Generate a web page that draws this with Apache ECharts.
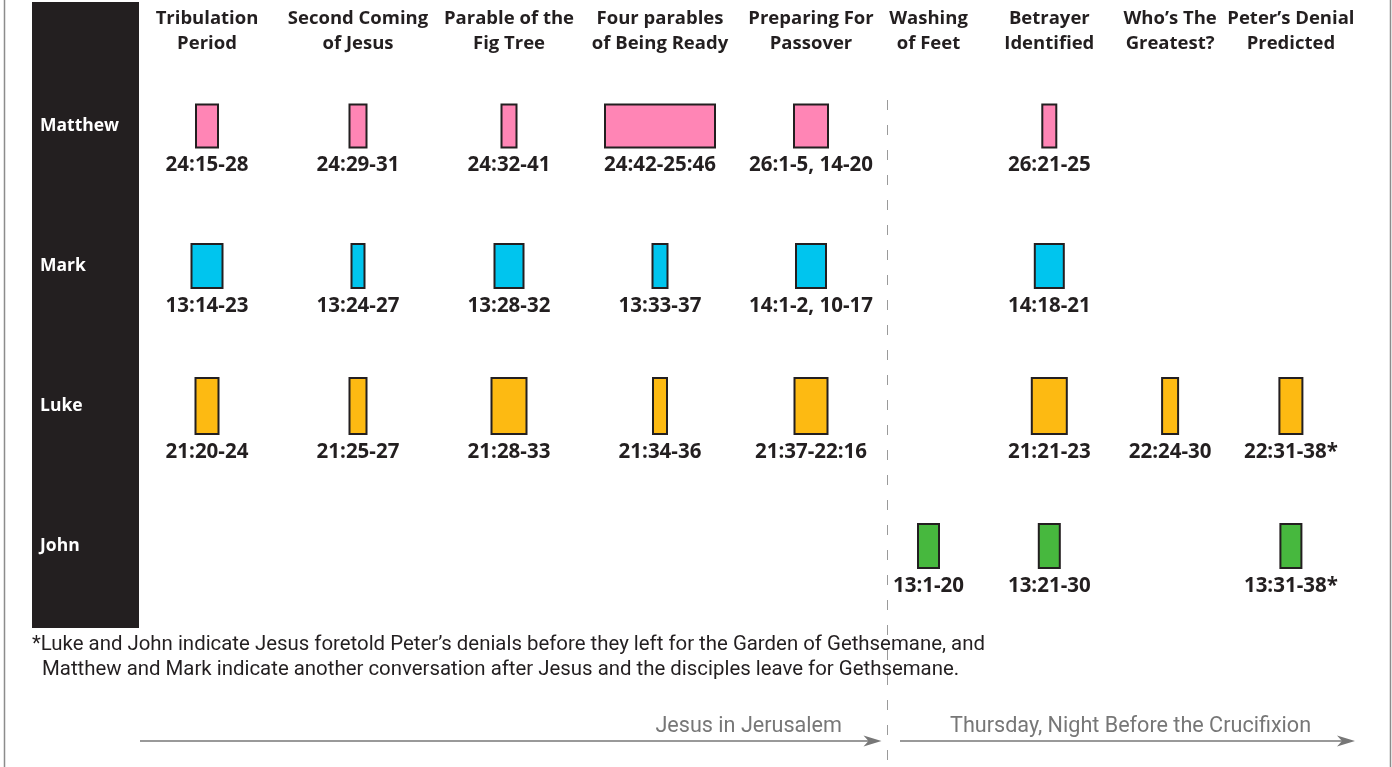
<!DOCTYPE html>
<html><head><meta charset="utf-8">
<script src="https://cdn.jsdelivr.net/npm/echarts@6/dist/echarts.min.js"></script>
<style>html,body{margin:0;padding:0;background:#fff}#c{width:1392px;height:767px}</style>
</head><body><div id="c"></div>
<script>
// ---- data ----
const events = ['Tribulation\nPeriod','Second Coming\nof Jesus','Parable of the\nFig Tree','Four parables\nof Being Ready','Preparing For\nPassover','Washing\nof Feet','Betrayer\nIdentified','Who’s The\nGreatest?','Peter’s Denial\nPredicted'];
const gospels = ['Matthew','Mark','Luke','John'];
const matthewRefs = ['24:15-28','24:29-31','24:32-41','24:42-25:46','26:1-5, 14-20','','26:21-25','',''];
const markRefs    = ['13:14-23','13:24-27','13:28-32','13:33-37','14:1-2, 10-17','','14:18-21','',''];
const lukeRefs    = ['21:20-24','21:25-27','21:28-33','21:34-36','21:37-22:16','','21:21-23','22:24-30','22:31-38*'];
const johnRefs    = ['','','','','','13:1-20','13:21-30','','13:31-38*'];
// relative passage extent (box width)
const matthewSpan = [24,19,17,112,36,0,16,0,0];
const markSpan    = [33,15,31,17,32,0,31,0,0];
const lukeSpan    = [25,19,37,16,35,0,37,18,25];
const johnSpan    = [0,0,0,0,0,23,23,0,23];
const phaseLabels = ['Jesus in Jerusalem','Thursday, Night Before the Crucifixion'];
const footnoteLines = ['*Luke and John indicate Jesus foretold Peter’s denials before they left for the Garden of Gethsemane, and',
                       'Matthew and Mark indicate another conversation after Jesus and the disciples leave for Gethsemane.'];

// ---- styles ----
const gospelColors = ['#FF85B5','#00C5EE','#FDBA12','#47B83E'];
const boxHeights = [45,46,58,46];
const ink = '#231f20';
const splitAt = 5;

const refsAll = [matthewRefs, markRefs, lukeRefs, johnRefs];
const spanAll = [matthewSpan, markSpan, lukeSpan, johnSpan];

function buildItems(from, to){
  const items = [];
  refsAll.forEach((refs, g) => {
    for (let i = from; i < to; i++){
      if (refs[i]) items.push({value:[i - from, g, spanAll[g][i]], ref: refs[i]});
    }
  });
  return items;
}
const leftItems = buildItems(0, splitAt);
const rightItems = buildItems(splitAt, events.length);

function makeRender(items){
  return function(params, api){
    const c = api.coord([api.value(0), api.value(1)]);
    const g = api.value(1);
    const w = api.value(2);
    const h = boxHeights[g];
    const top = c[1] - h/2;
    return {type:'group', children:[
      {type:'rect', shape:{x:c[0]-w/2+1, y:top+1, width:w-2, height:h-2},
       style:{fill:gospelColors[g], stroke:ink, lineWidth:2}},
      {type:'text', style:{text:items[params.dataIndex].ref, x:c[0], y:top+h+17,
        align:'center', verticalAlign:'middle', fill:ink,
        fontFamily:'Open Sans', fontWeight:700, fontSize:20.5}}
    ]};
  };
}

const gridTop = 56, gridH = 560;
const chart = echarts.init(document.getElementById('c'));
const xLabel = {interval:0, color:ink, fontFamily:'Open Sans', fontWeight:700, fontSize:18.5, lineHeight:25, margin:0};
chart.setOption({
  animation:false,
  grid:[
    {left:131.5, top:gridTop, width:755, height:gridH},
    {left:868.1, top:gridTop, width:483.2, height:gridH}
  ],
  xAxis:[
    {gridIndex:0, type:'category', position:'top', data:events.slice(0,splitAt),
     axisLine:{show:false}, axisTick:{show:false}, splitLine:{show:false}, axisLabel:xLabel},
    {gridIndex:1, type:'category', position:'top', data:events.slice(splitAt),
     axisLine:{show:false}, axisTick:{show:false}, splitLine:{show:false}, axisLabel:xLabel}
  ],
  yAxis:[
    {gridIndex:0, type:'category', inverse:true, data:gospels, z:10,
     axisLine:{show:false}, axisTick:{show:false}, splitLine:{show:false},
     axisLabel:{color:'#fff', fontFamily:'Open Sans', fontWeight:700, fontSize:17.5, align:'left', margin:91.5, padding:[0,0,5,0]}},
    {gridIndex:1, type:'category', inverse:true, data:gospels,
     axisLine:{show:false}, axisTick:{show:false}, splitLine:{show:false}, axisLabel:{show:false}}
  ],
  series:[
    {type:'custom', xAxisIndex:0, yAxisIndex:0, data:leftItems, renderItem:makeRender(leftItems)},
    {type:'custom', xAxisIndex:1, yAxisIndex:1, data:rightItems, renderItem:makeRender(rightItems)}
  ],
  graphic:[
    {type:'rect', z:0, shape:{x:4.5, y:-10, width:1386, height:790}, style:{fill:'none', stroke:'#8c8c8c', lineWidth:1.5}},
    {type:'rect', z:0, shape:{x:32, y:2, width:107, height:626}, style:{fill:ink}},
    {type:'line', z:0, shape:{x1:887.5, y1:100, x2:887.5, y2:767}, style:{stroke:'#9a9a9a', lineWidth:1, lineDash:[10,15]}},
    {type:'line', z:0, shape:{x1:140, y1:741, x2:870, y2:741}, style:{stroke:'#777', lineWidth:1.5}},
    {type:'polygon', z:0, shape:{points:[[881.5,741],[863.5,735.5],[868.5,741],[863.5,746.5]]}, style:{fill:'#777'}},
    {type:'line', z:0, shape:{x1:900, y1:741, x2:1344, y2:741}, style:{stroke:'#777', lineWidth:1.5}},
    {type:'polygon', z:0, shape:{points:[[1355,741],[1337,735.5],[1342,741],[1337,746.5]]}, style:{fill:'#777'}},
    {type:'text', z:0, style:{text:phaseLabels[0], x:842, y:727, align:'right', verticalAlign:'middle', fill:'#777', fontFamily:'Roboto', fontSize:21.6}},
    {type:'text', z:0, style:{text:phaseLabels[1], x:950, y:727, align:'left', verticalAlign:'middle', fill:'#777', fontFamily:'Roboto', fontSize:21.6}},
    {type:'text', z:0, style:{text:footnoteLines[0], x:32, y:645, align:'left', verticalAlign:'middle', fill:ink, fontFamily:'Roboto', fontSize:20.4}},
    {type:'text', z:0, style:{text:footnoteLines[1], x:42, y:670, align:'left', verticalAlign:'middle', fill:ink, fontFamily:'Roboto', fontSize:20.4}}
  ]
});
</script></body></html>
